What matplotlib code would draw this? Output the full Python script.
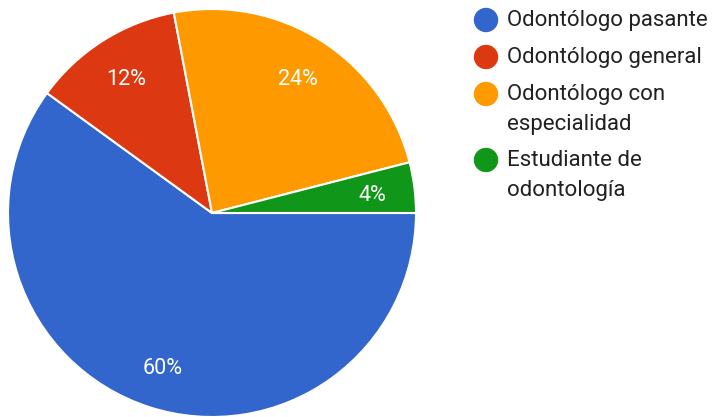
import matplotlib.pyplot as plt
from matplotlib.patches import Circle

plt.rcParams['font.family'] = ['Roboto', 'DejaVu Sans']

# respuestas de la encuesta
labels = ["Odontólogo pasante", "Odontólogo general", "Odontólogo con\nespecialidad", "Estudiante de\nodontología"]
values = [60, 12, 24, 4]
colors = ["#3366cc", "#dc3912", "#ff9900", "#109618"]

fig = plt.figure(figsize=(7.14, 4.17), dpi=100)
ax = fig.add_axes([0, 0, 1, 1])

# pie in pixel-like units so the circle lands where we want it
wedges, texts, autotexts = ax.pie(values, colors=colors, startangle=0, counterclock=False,
                                  center=(212, 204), radius=204,
                                  autopct='%d%%', pctdistance=0.79,
                                  wedgeprops=dict(edgecolor='white', linewidth=1.5),
                                  textprops=dict(color='white', fontsize=15.5))
for t in autotexts:
    t.set_va('center_baseline')
ax.set_xlim(0, 714)
ax.set_ylim(0, 417)
ax.set_aspect('equal')
ax.axis('off')

# legend drawn by hand: circle marker + wrapped label, one text per line
row_y = [20, 57, 94, 160]
for lab, col, y in zip(labels, colors, row_y):
    ax.add_patch(Circle((486, 417 - y), 11.5, color=col))
    for i, line in enumerate(lab.split("\n")):
        ax.text(507, 417 - y - i * 30, line, fontsize=16, color='#212121',
                va='center', ha='left')

fig.savefig("out.png", dpi=100)
